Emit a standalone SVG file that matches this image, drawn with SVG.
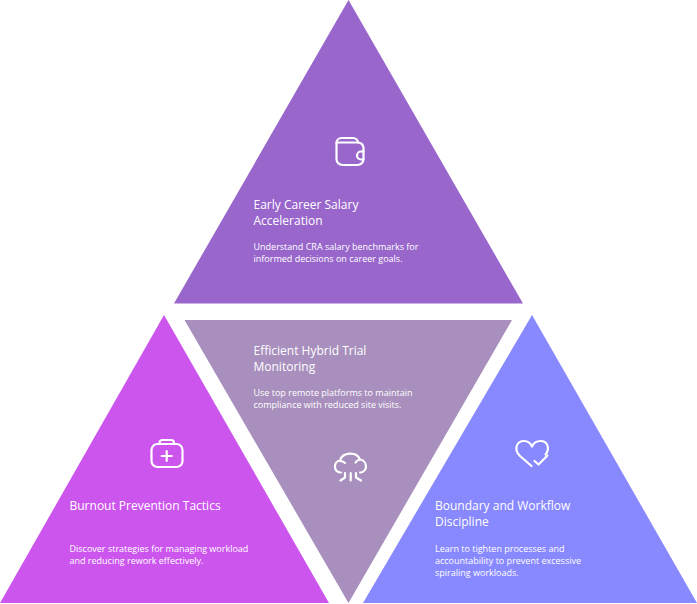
<svg xmlns="http://www.w3.org/2000/svg" width="697" height="604" viewBox="0 0 697 604">
<style>
text{font-family:"Open Sans","Noto Sans",sans-serif;fill:#fff}
.t{font-size:12px}
.d{font-size:9px}
.i{fill:none;stroke:#fff;stroke-width:2.2;stroke-linecap:round;stroke-linejoin:round}
</style>
<rect width="697" height="604" fill="#fff"/>
<g id="top">
<polygon points="348.500,0 523,303.500 174,303.500" fill="#9966cc"/>
<g class="i"><path d="M336.500 143V159a6 6 0 0 0 6 6H357.500a6 6 0 0 0 6-6V148a6 6 0 0 0-5-5.500H336.500Z"/><path d="M336.500 143a5 5 0 0 1 5-5H353a5 5 0 0 1 5 4.500"/><path d="M363.500 151.500H361a4 4 0 0 0 0 8H363.500"/></g>
<text class="t" x="253.500" y="208.500">Early Career Salary</text>
<text class="t" x="253.500" y="225">Acceleration</text>
<text class="d" x="253.500" y="249.500">Understand CRA salary benchmarks for</text>
<text class="d" x="253.500" y="261.700">informed decisions on career goals.</text>
</g>
<g id="center">
<polygon points="184.500,320 512,320 348.500,603" fill="#a88fbd"/>
<g class="i"><path d="M341 472.500H340.500a5.500 5.500 0 0 1-5.500-6A6 6 0 0 1 340 460.500A10.500 9 0 0 1 360 459.500A7 7 0 0 1 366 466a6 6 0 0 1-5.500 6.500H360"/><path d="M340 461a7 7 0 0 1 5 2M360 459.500a7 7 0 0 0-4.500 3"/><path d="M345 473V477.500L340.500 480.500"/><path d="M350.700 473V480.500"/><path d="M356 473V477.500L361 480.500"/></g>
<text class="t" x="253.500" y="354.700">Efficient Hybrid Trial</text>
<text class="t" x="253.500" y="371">Monitoring</text>
<text class="d" x="253.500" y="395.500">Use top remote platforms to maintain</text>
<text class="d" x="253.500" y="407.700">compliance with reduced site visits.</text>
</g>
<g id="left">
<polygon points="164,315 329,603 0,603" fill="#cc55ee"/>
<g class="i"><rect x="151.500" y="444" width="31" height="23" rx="6"/><path d="M159.500 444V443a3 3 0 0 1 3-3H171a3 3 0 0 1 3 3V444"/><path d="M166.700 451V461M161.700 456H171.700"/></g>
<text class="t" x="69.500" y="509.700">Burnout Prevention Tactics</text>
<text class="d" x="69.500" y="551.500">Discover strategies for managing workload</text>
<text class="d" x="69.500" y="563.700">and reducing rework effectively.</text>
</g>
<g id="right">
<polygon points="532,315 697,603 363,603" fill="#8888ff"/>
<g class="i"><path d="M531.500 466L520 456C513 449 517 441 524 441C528 441 530.500 443 532 446.500C533.500 443 536.500 441 540.500 441C548 441 550 449 545.500 454.500"/><path d="M534.500 461L538.500 464.500L547.500 455.500"/></g>
<text class="t" x="435" y="509.700">Boundary and Workflow</text>
<text class="t" x="435" y="526">Discipline</text>
<text class="d" x="435" y="551.500">Learn to tighten processes and</text>
<text class="d" x="435" y="563.700">accountability to prevent excessive</text>
<text class="d" x="435" y="575.900">spiraling workloads.</text>
</g>
</svg>
